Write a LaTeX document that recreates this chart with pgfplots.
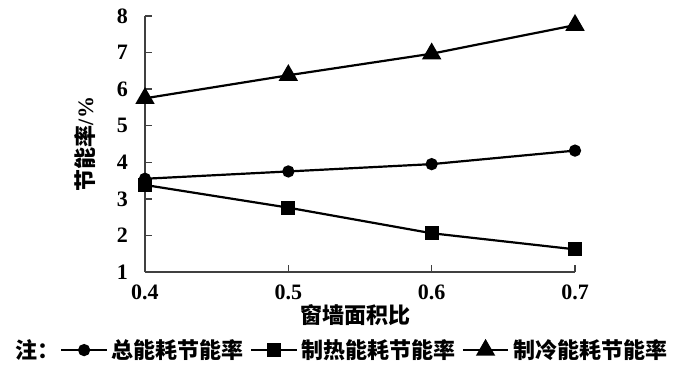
\documentclass[border=0pt]{standalone}
\usepackage{fontspec}
\setmainfont{Liberation Serif}
\newfontfamily\tms{Liberation Serif}
\newfontfamily\cjk{Noto Sans CJK SC}
\usepackage{pgfplots}
\pgfplotsset{compat=1.18}
\begin{document}
\begin{tikzpicture}
\useasboundingbox (-72.5pt,-50pt) rectangle (277.5pt,136pt);
\begin{axis}[
  at={(0,0)}, anchor=south west,
  scale only axis, width=215pt, height=128pt,
  xmin=0.4, xmax=0.7, ymin=1, ymax=8,
  axis lines=left,
  axis line style={-, black!75, line width=0.7pt},
  tick style={black!75, line width=0.7pt},
  major tick length=3.5pt, tick align=inside,
  xtick={0.4,0.5,0.6,0.7}, xticklabels={0.4,0.5,0.6,0.7},
  ytick={1,2,3,4,5,6,7,8},
  /pgf/number format/assume math mode=true,
  tick label style={font=\tms\bfseries\fontsize{11}{13}\selectfont},
  xticklabel style={yshift=-3pt},
  yticklabel style={xshift=-5pt},
  clip=false,
  xlabel={\cjk\bfseries 窗墙面积比},
  ylabel={{\cjk\bfseries 节能率}{\tms\bfseries /\%}},
  label style={font=\fontsize{11}{13}\selectfont},
  xlabel style={at={(axis description cs:0.49,-0.168)}, anchor=center},
  ylabel style={at={(axis description cs:-0.14,0.5)}, anchor=center},
  legend columns=3,
  legend cell align=left,
  legend style={at={(axis description cs:-0.198,-0.305)}, anchor=west,
    draw=none, fill=none, inner sep=0pt,
    font=\fontsize{11}{13}\selectfont,
    /tikz/every even column/.append style={column sep=1pt}},
  legend image code/.code={\draw[mark repeat=2,mark phase=2] plot coordinates {(0cm,0cm)(0.4cm,0cm)(0.8cm,0cm)};},
]
\addplot[black, line width=1.1pt, mark=*, mark size=2.5pt] coordinates {(0.4,3.55)(0.5,3.75)(0.6,3.95)(0.7,4.32)};
\addlegendentry{\cjk\bfseries 总能耗节能率}
\addplot[black, line width=1.1pt, mark=square*, mark size=3pt] coordinates {(0.4,3.38)(0.5,2.76)(0.6,2.06)(0.7,1.62)};
\addlegendentry{\cjk\bfseries 制热能耗节能率}
\addplot[black, line width=1.1pt, mark=triangle*, mark size=4.5pt] coordinates {(0.4,5.75)(0.5,6.38)(0.6,6.97)(0.7,7.75)};
\addlegendentry{\cjk\bfseries 制冷能耗节能率}
\node[anchor=west, font=\cjk\bfseries\fontsize{11}{13}\selectfont, inner sep=0pt] at (axis description cs:-0.302,-0.305) {注：};
\end{axis}
\end{tikzpicture}
\end{document}
